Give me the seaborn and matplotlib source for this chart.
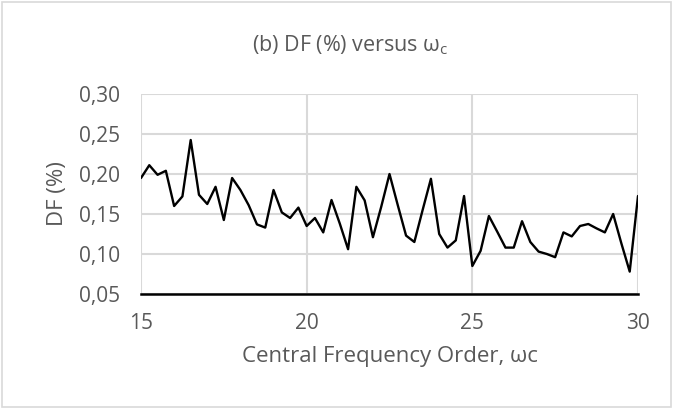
import numpy as np
import pandas as pd
import matplotlib
matplotlib.use("Agg")
import matplotlib.pyplot as plt
import matplotlib.ticker as mticker
from matplotlib.patches import Rectangle
import seaborn as sns

# -------------------------------
# Data
# -------------------------------
omega_c = [15 + 0.25 * i for i in range(61)]
df_pct = [0.195, 0.211, 0.199, 0.204, 0.160, 0.172, 0.2425, 0.174, 0.1625, 0.184,
          0.1425, 0.195, 0.180, 0.161, 0.137, 0.133, 0.180, 0.152, 0.145, 0.158,
          0.135, 0.145, 0.127, 0.1675, 0.138, 0.106, 0.184, 0.167, 0.121, 0.159,
          0.200, 0.161, 0.123, 0.115, 0.155, 0.194, 0.125, 0.108, 0.117, 0.1725,
          0.085, 0.104, 0.1475, 0.128, 0.108, 0.108, 0.141, 0.115, 0.103, 0.100,
          0.096, 0.127, 0.122, 0.135, 0.1375, 0.132, 0.127, 0.150, 0.113, 0.078,
          0.1725]
x_ticks = [15, 20, 25, 30]
y_ticks = [0.05, 0.10, 0.15, 0.20, 0.25, 0.30]

data = pd.DataFrame({"omega_c": omega_c, "DF": df_pct})

sns.set_style("white")
plt.rcParams['font.family'] = ['Open Sans', 'DejaVu Sans']
grey_txt = "#595959"
grid_col = "#d9d9d9"

fig = plt.figure(figsize=(6.73, 4.09), dpi=100)
ax = fig.add_axes([141 / 673, 1 - 294 / 409, (638 - 141) / 673, 200 / 409])

sns.lineplot(data=data, x="omega_c", y="DF", color="black", linewidth=1.7, ax=ax)

ax.set_xlim(15, 30)
ax.set_ylim(0.05, 0.30)
ax.set_xticks(x_ticks)
ax.set_yticks(y_ticks)
ax.yaxis.set_major_formatter(mticker.FuncFormatter(lambda v, p: f"{v:.2f}".replace(".", ",")))
ax.grid(True, color=grid_col, linewidth=1.5)
ax.set_axisbelow(True)
for side in ["top", "left", "right"]:
    ax.spines[side].set_visible(False)
ax.spines["bottom"].set_color("black")
ax.spines["bottom"].set_linewidth(1.8)
ax.tick_params(axis="both", length=0, labelsize=15, labelcolor=grey_txt)
ax.tick_params(axis="y", pad=15)
ax.tick_params(axis="x", pad=14)

ax.set_xlabel("Central Frequency Order, ωc", fontsize=16, color=grey_txt, labelpad=8)
ax.set_ylabel("DF (%)", fontsize=16, color=grey_txt)
ax.yaxis.set_label_coords(-0.147, 0.5)

fig.text(350 / 673, 1 - 45 / 409, r"(b) DF (%) versus ω$_\mathregular{c}$",
         ha="center", va="center", fontsize=15.5, color=grey_txt)

fig.patches.append(Rectangle((0.003, 0.004), 0.994, 0.992, transform=fig.transFigure,
                             fill=False, edgecolor=grid_col, linewidth=1.2))

fig.savefig("out.png", dpi=100)
